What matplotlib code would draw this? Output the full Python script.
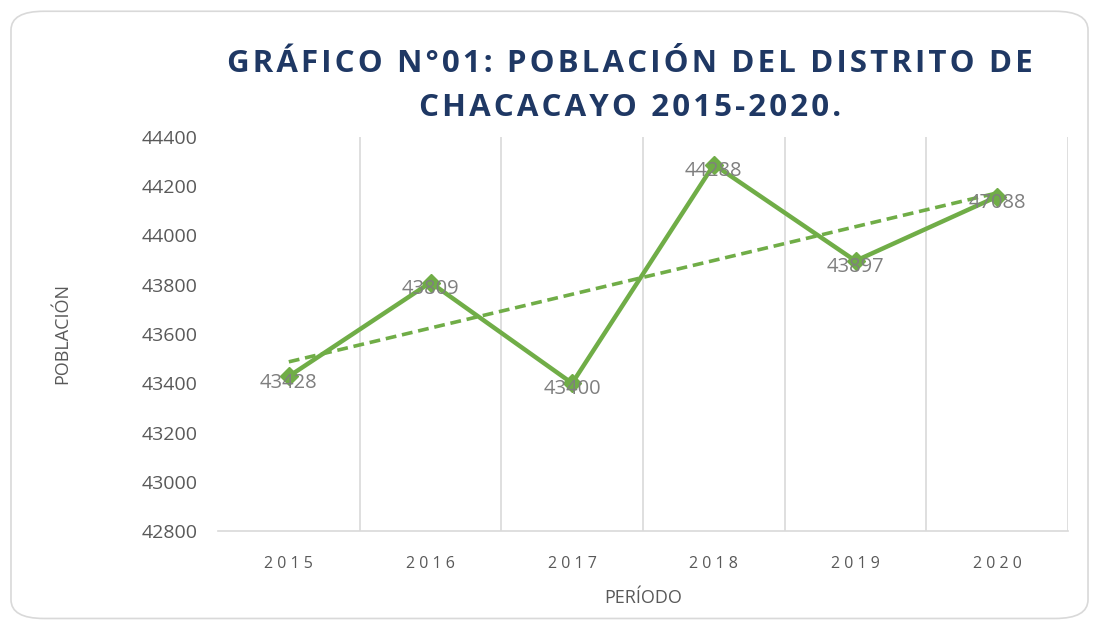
import numpy as np
import matplotlib.pyplot as plt
from matplotlib.patches import FancyBboxPatch

# datos
periodos = ['2015', '2016', '2017', '2018', '2019', '2020']
poblacion = [43428, 43809, 43400, 44288, 43897, 44158]
etiquetas = ['43428', '43809', '43400', '44288', '43897', '47088']
titulo = ['GRÁFICO N°01: POBLACIÓN DEL DISTRITO DE', 'CHACACAYO 2015-2020.']

plt.rcParams['font.family'] = ['Open Sans', 'DejaVu Sans']


def espaciar(s, sep='\u200a'):
    # espaciado entre letras como en el grafico original
    return sep.join(s)


fig = plt.figure(figsize=(10.99, 6.26), dpi=100)
# marco redondeado del grafico
marco = FancyBboxPatch((0.01, 0.012), 0.98, 0.97, boxstyle='round,pad=0,rounding_size=0.03',
                       transform=fig.transFigure, fc='white', ec='#d9d9d9', lw=1.2, zorder=-1)
fig.patches.append(marco)

ax = fig.add_axes([218 / 1099, 1 - 531 / 626, (1068 - 218) / 1099, (531 - 137) / 626])
ax.set_facecolor('none')
x = np.arange(len(periodos))
ax.plot(x, poblacion, color='#70AD47', lw=3.2, marker='D', ms=9, zorder=3)

# linea de tendencia lineal
m, b = np.polyfit(x, poblacion, 1)
ax.plot(x, m * x + b, color='#70AD47', lw=2.6, ls=(0, (3, 1.6)), zorder=2)

for xi, yi, t in zip(x, poblacion, etiquetas):
    ax.text(xi, yi - 25, t, ha='center', va='center', fontsize=14.5, color='#7f7f7f', zorder=4)

ax.set_xlim(-0.5, 5.5)
ax.set_ylim(42800, 44400)
ax.set_yticks(np.arange(42800, 44401, 200))
ax.set_xticks(x)
ax.set_xticklabels([espaciar(p, ' ') for p in periodos])
ax.set_xticks(np.arange(0.5, 5.6, 1), minor=True)
ax.grid(True, which='minor', axis='x', color='#d9d9d9', lw=1.2)
ax.tick_params(which='both', length=0)
ax.tick_params(axis='y', labelsize=14, labelcolor='#595959', pad=15)
ax.tick_params(axis='x', labelsize=11.5, labelcolor='#595959', pad=18)
for s in ['top', 'right', 'left']:
    ax.spines[s].set_visible(False)
ax.spines['bottom'].set_color('#d9d9d9')
ax.spines['bottom'].set_linewidth(1.2)

ax.set_xlabel('PERÍODO', fontsize=13, color='#595959', labelpad=12)
ax.set_ylabel('POBLACIÓN', fontsize=13, color='#595959', labelpad=50)

fig.text(0.573, 0.897, espaciar(titulo[0]), ha='center', va='center',
         fontsize=22.5, fontweight='bold', color='#1F3864')
fig.text(0.573, 0.828, espaciar(titulo[1]), ha='center', va='center',
         fontsize=22.5, fontweight='bold', color='#1F3864')

fig.savefig('out.png', dpi=100)
